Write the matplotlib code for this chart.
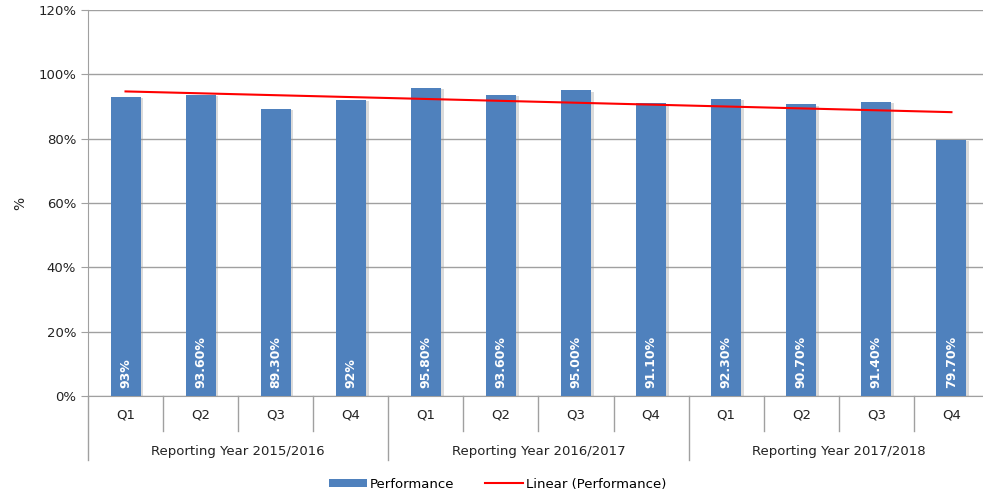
import numpy as np
import matplotlib.pyplot as plt
import matplotlib.patheffects as pe
from matplotlib.lines import Line2D
from matplotlib.patches import Patch

quarters = ['Q1', 'Q2', 'Q3', 'Q4'] * 3
years = ['Reporting Year 2015/2016', 'Reporting Year 2016/2017', 'Reporting Year 2017/2018']
performance = [93.0, 93.6, 89.3, 92.0, 95.8, 93.6, 95.0, 91.1, 92.3, 90.7, 91.4, 79.7]
bar_labels = ['93%', '93.60%', '89.30%', '92%', '95.80%', '93.60%', '95.00%', '91.10%',
              '92.30%', '90.70%', '91.40%', '79.70%']

bar_color = '#4F81BD'
grid_color = '#A0A0A0'
txt = '#222222'

fig = plt.figure(figsize=(9.83, 4.97), dpi=100)
ax = fig.add_axes([0.0895, 0.203, 0.9166, 0.777])

x = np.arange(len(performance))
bars = ax.bar(x, performance, width=0.4, color=bar_color, zorder=3)
for b in bars:
    b.set_path_effects([pe.SimplePatchShadow(offset=(2, -1), shadow_rgbFace='#999999', alpha=0.35),
                        pe.Normal()])

# linear trend line
k, c = np.polyfit(x, performance, 1)
ax.plot(x, k * x + c, color='#FF0000', lw=1.5, zorder=4)

for xi, lab in zip(x, bar_labels):
    ax.text(xi, 2.5, lab, rotation=90, ha='center', va='bottom', color='white',
            fontsize=9, fontweight='bold', zorder=5)

ax.set_xlim(-0.5, len(performance) - 0.5)
ax.set_ylim(0, 120)
ax.set_yticks(np.arange(0, 121, 20))
ax.set_yticklabels([f'{v}%' for v in range(0, 121, 20)], fontsize=9.5, color=txt)
ax.yaxis.grid(True, color=grid_color, lw=1, zorder=0)
ax.tick_params(axis='y', length=5, color=grid_color)
ax.set_xticks([])
for s in ['top', 'right']:
    ax.spines[s].set_visible(False)
ax.spines['left'].set_color(grid_color)
ax.spines['bottom'].set_color(grid_color)
ax.set_ylabel('%', fontsize=10, color=txt, labelpad=8)

# two level category axis
trans = ax.get_xaxis_transform()
for i, q in enumerate(quarters):
    ax.text(i, -0.05, q, transform=trans, ha='center', va='center', fontsize=9.5, color=txt)
for i in range(len(quarters) + 1):
    ln = -0.165 if i % 4 == 0 else -0.09
    ax.plot([i - 0.5, i - 0.5], [0, ln], transform=trans, color=grid_color, lw=1, clip_on=False)
for j, y in enumerate(years):
    ax.text(4 * j + 1.5, -0.143, y, transform=trans, ha='center', va='center', fontsize=9.5, color=txt)

handles = [Patch(facecolor=bar_color, label='Performance'),
           Line2D([0], [0], color='#FF0000', lw=1.5, label='Linear (Performance)')]
fig.legend(handles=handles, loc='center', bbox_to_anchor=(0.506, 0.026), ncol=2, frameon=False,
           fontsize=9.5, handlelength=2.9, handleheight=0.6, columnspacing=2.3, handletextpad=0.2)

fig.savefig('out.png', dpi=100)
